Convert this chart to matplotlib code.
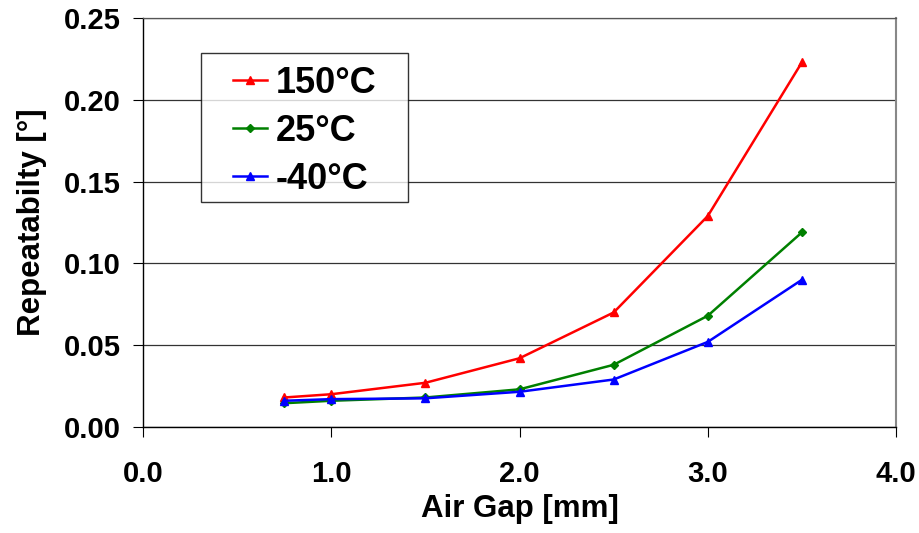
import matplotlib.pyplot as plt
from matplotlib.path import Path

plt.rcParams['font.family'] = ['Liberation Sans', 'DejaVu Sans']
plt.rcParams['font.weight'] = 'bold'

# data
air_gap = [0.75, 1.0, 1.5, 2.0, 2.5, 3.0, 3.5]
rep_150 = [0.018, 0.020, 0.027, 0.042, 0.070, 0.129, 0.223]
rep_25 = [0.0145, 0.016, 0.018, 0.023, 0.038, 0.068, 0.119]
rep_m40 = [0.016, 0.017, 0.0175, 0.0215, 0.029, 0.052, 0.090]

x_ticks = [0.0, 1.0, 2.0, 3.0, 4.0]
y_ticks = [0.00, 0.05, 0.10, 0.15, 0.20, 0.25]


def wide_box(x0, y0, width, height, mutation_size):
    # legend frame: more room left/right, a bit less at the bottom
    dx, db = 19, 8
    xl, xr = x0 - dx, x0 + width + dx
    yb, yt = y0 + db, y0 + height
    return Path([(xl, yb), (xr, yb), (xr, yt), (xl, yt), (xl, yb)], closed=True)


fig = plt.figure(figsize=(9.2, 5.33), dpi=100)
ax = fig.add_axes([0.1554, 0.199, 0.8186, 0.767])

ax.plot(air_gap, rep_150, color='#ff0000', marker='^', markersize=6, lw=1.8, label='150°C', zorder=3)
ax.plot(air_gap, rep_25, color='#008000', marker='D', markersize=4.5, lw=1.8, label='25°C', zorder=3)
ax.plot(air_gap, rep_m40, color='#0000ff', marker='^', markersize=6, lw=1.8, label='-40°C', zorder=4)

ax.set_xlim(0, 4.0)
ax.set_ylim(0, 0.25)
ax.set_xticks(x_ticks)
ax.set_xticklabels(['%.1f' % v for v in x_ticks])
ax.set_yticks(y_ticks)
ax.set_yticklabels(['%.2f' % v for v in y_ticks])
ax.tick_params(axis='both', labelsize=21, length=7, width=0.8, direction='out')
ax.tick_params(axis='x', pad=17)
ax.tick_params(axis='y', pad=9)

ax.yaxis.grid(True, color='#333333', lw=0.9)
ax.set_axisbelow(True)
for s in ['left', 'bottom']:
    ax.spines[s].set_color('black')
    ax.spines[s].set_linewidth(1.0)
ax.spines['right'].set_color('#888888')
ax.spines['right'].set_linewidth(1.5)
ax.spines['top'].set_color('#555555')
ax.spines['top'].set_linewidth(0.9)

ax.set_xlabel('Air Gap [mm]', fontsize=22.5, fontweight='bold', labelpad=4)
ax.set_ylabel('Repeatabilty [°]', fontsize=22.5, fontweight='bold', labelpad=12)

leg = ax.legend(loc='upper left', bbox_to_anchor=(0.1023, 0.914), fontsize=26,
                frameon=True, fancybox=False, handlelength=0.95, handletextpad=0.25,
                borderpad=0.35, labelspacing=0.36, borderaxespad=0)
leg.get_frame().set_boxstyle(wide_box)
leg.get_frame().set_edgecolor('black')
leg.get_frame().set_linewidth(1.0)
for t in leg.get_texts():
    t.set_fontweight('bold')

plt.savefig('out.png', dpi=100)
